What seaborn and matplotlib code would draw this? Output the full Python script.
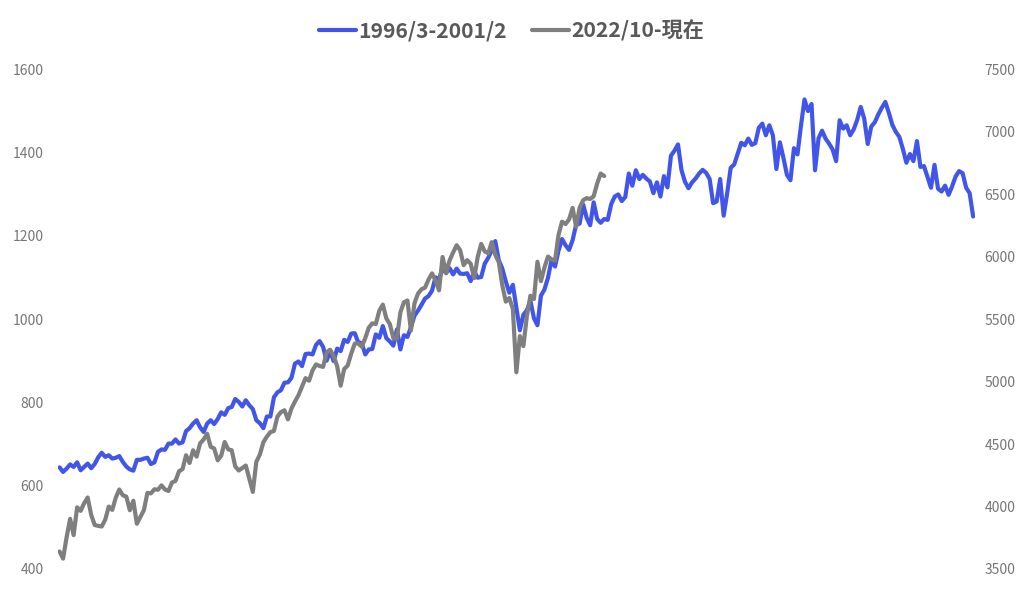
import numpy as np
import pandas as pd
import matplotlib
matplotlib.use("Agg")
import matplotlib.pyplot as plt
import seaborn as sns

# weekly closes, 1996/3 - 2001/2 (left axis)
blue_label = "1996/3-2001/2"
blue_values = [
    644, 633, 641, 651, 645, 656, 637, 645, 653, 642, 652, 668, 679, 669, 673, 665,
    667, 671, 657, 646, 639, 636, 662, 662, 665, 667, 652, 656, 681, 687, 686, 701,
    701, 711, 701, 704, 731, 738, 749, 757, 740, 729, 749, 757, 748, 760, 776, 770,
    786, 789, 808, 801, 790, 805, 793, 784, 757, 750, 738, 766, 766, 812, 824, 829,
    847, 848, 859, 893, 898, 887, 916, 917, 915, 938, 947, 933, 900, 923, 899, 929,
    923, 950, 945, 965, 966, 944, 942, 915, 927, 928, 963, 955, 983, 954, 946, 936,
    975, 927, 961, 957, 980, 1008, 1020, 1034, 1049, 1055, 1068, 1100, 1095, 1122, 1110, 1122,
    1107, 1121, 1109, 1108, 1110, 1091, 1114, 1099, 1101, 1133, 1147, 1165, 1187, 1141, 1121, 1090,
    1063, 1082, 1027, 973, 1010, 1021, 1044, 1002, 985, 1056, 1071, 1099, 1141, 1126, 1164, 1192,
    1177, 1166, 1189, 1226, 1229, 1275, 1243, 1225, 1280, 1240, 1231, 1240, 1238, 1276, 1294, 1299,
    1283, 1293, 1349, 1320, 1357, 1336, 1346, 1337, 1330, 1302, 1328, 1294, 1343, 1316, 1392, 1404,
    1419, 1357, 1329, 1314, 1328, 1337, 1349, 1358, 1351, 1336, 1278, 1282, 1336, 1248, 1302, 1363,
    1371, 1397, 1423, 1417, 1433, 1418, 1422, 1459, 1469, 1441, 1465, 1441, 1360, 1424, 1387, 1346,
    1333, 1410, 1395, 1464, 1527, 1499, 1516, 1357, 1434, 1452, 1433, 1421, 1407, 1379, 1477, 1457,
    1465, 1441, 1455, 1478, 1509, 1481, 1420, 1462, 1472, 1491, 1507, 1521, 1495, 1466, 1449, 1437,
    1408, 1375, 1396, 1379, 1427, 1365, 1367, 1341, 1315, 1370, 1313, 1306, 1320, 1298, 1318, 1342,
    1355, 1350, 1315, 1302, 1246,
]

# weekly closes, 2022/10 - now (right axis)
gray_label = "2022/10-現在"
gray_values = [
    3640, 3583, 3753, 3901, 3771, 3993, 3965, 4026, 4072, 3934, 3852, 3845, 3840, 3895, 3999, 3973,
    4071, 4136, 4090, 4079, 3970, 4046, 3862, 3917, 3971, 4109, 4105, 4138, 4134, 4169, 4136, 4124,
    4192, 4205, 4282, 4299, 4410, 4348, 4450, 4399, 4505, 4536, 4582, 4478, 4464, 4370, 4406, 4516,
    4457, 4450, 4320, 4288, 4308, 4328, 4224, 4117, 4358, 4415, 4514, 4559, 4595, 4604, 4719, 4755,
    4770, 4697, 4784, 4840, 4891, 4959, 5027, 5006, 5089, 5137, 5124, 5117, 5234, 5254, 5204, 5123,
    4967, 5100, 5128, 5223, 5303, 5305, 5278, 5347, 5431, 5465, 5460, 5567, 5615, 5505, 5459, 5346,
    5344, 5554, 5634, 5648, 5408, 5626, 5703, 5738, 5751, 5815, 5865, 5808, 5729, 5996, 5871, 5969,
    6032, 6090, 6051, 5931, 5971, 5942, 5827, 5997, 6101, 6041, 6026, 6115, 6013, 5955, 5770, 5639,
    5668, 5581, 5074, 5363, 5283, 5525, 5686, 5660, 5958, 5803, 5912, 6000, 5977, 5968, 6173, 6279,
    6260, 6297, 6389, 6238, 6389, 6450, 6467, 6460, 6482, 6584, 6664, 6644,
]

left_ticks = [400, 600, 800, 1000, 1200, 1400, 1600]
right_ticks = [3500, 4000, 4500, 5000, 5500, 6000, 6500, 7000, 7500]

blue_df = pd.DataFrame({"week": np.arange(len(blue_values)), "value": blue_values})
gray_df = pd.DataFrame({"week": np.arange(len(gray_values)), "value": gray_values})

sns.set_theme(style="white")
plt.rcParams["font.family"] = ["Noto Sans CJK JP", "DejaVu Sans"]

text_color = "#595959"
tick_color = "#767676"
blue = "#4156E8"
gray = "#7F7F7F"

fig = plt.figure(figsize=(10.23, 5.95), dpi=100)
ax = fig.add_axes([0.0565, 0.0437, 0.8965, 0.8403])
ax2 = ax.twinx()

sns.lineplot(data=blue_df, x="week", y="value", ax=ax, color=blue, linewidth=3,
             label=blue_label, legend=False)
sns.lineplot(data=gray_df, x="week", y="value", ax=ax2, color=gray, linewidth=3,
             label=gray_label, legend=False)

ax.set_xlim(-0.5, len(blue_values) - 0.5)
ax.set_ylim(400, 1600)
ax2.set_ylim(3500, 7500)
ax.set_yticks(left_ticks)
ax2.set_yticks(right_ticks)
ax.set_xticks([])
for a in (ax, ax2):
    a.set_xlabel("")
    a.set_ylabel("")
    for s in a.spines.values():
        s.set_visible(False)
    a.tick_params(axis="y", length=0, labelsize=10, labelcolor=tick_color)
    a.grid(False)
ax.tick_params(axis="y", pad=10)
ax2.tick_params(axis="y", pad=7)

h1, l1 = ax.get_legend_handles_labels()
h2, l2 = ax2.get_legend_handles_labels()
fig.legend(h1 + h2, l1 + l2, loc="center", bbox_to_anchor=(0.5, 0.948), ncol=2,
           frameon=False, handlelength=1.75, handletextpad=0.1, columnspacing=1.2,
           prop={"size": 15.2, "weight": "bold"}, labelcolor=text_color)

fig.savefig("out.png", dpi=100, facecolor="white")
